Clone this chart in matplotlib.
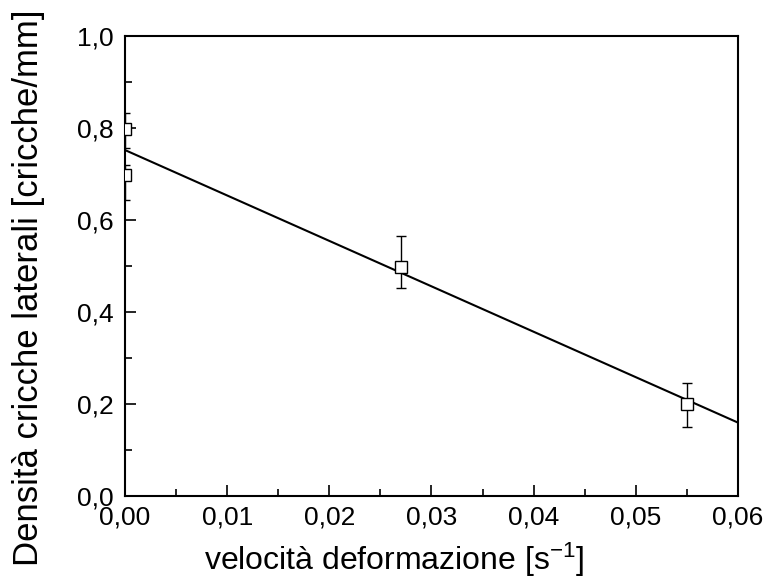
import matplotlib.pyplot as plt
from matplotlib.ticker import MultipleLocator

plt.rcParams['font.family'] = ['Liberation Sans', 'DejaVu Sans']
plt.rcParams['mathtext.default'] = 'regular'

# strain rate [1/s] vs lateral crack density [cracks/mm]
strain_rate = [0.0, 0.0, 0.027, 0.055]
crack_density = [0.797, 0.698, 0.498, 0.200]
err_low = [0.040, 0.055, 0.046, 0.050]
err_high = [0.036, 0.022, 0.067, 0.045]

# linear fit endpoints
fit_x = [0.0, 0.06]
fit_y = [0.752, 0.160]

xticks = [0.00, 0.01, 0.02, 0.03, 0.04, 0.05, 0.06]
yticks = [0.0, 0.2, 0.4, 0.6, 0.8, 1.0]

fig = plt.figure(figsize=(7.67, 5.79), dpi=100)
ax = fig.add_axes([0.163, 0.143, 0.799, 0.795])

ax.plot(fit_x, fit_y, color='black', linewidth=1.5)
ax.errorbar(strain_rate, crack_density, yerr=[err_low, err_high],
            fmt='s', mfc='white', mec='black', color='black',
            markersize=8.5, markeredgewidth=1.0, elinewidth=1.0,
            capsize=3.5, capthick=1.0, zorder=3)

ax.set_xlim(0, 0.06)
ax.set_ylim(0, 1.0)
ax.set_xticks(xticks)
ax.set_xticklabels([f"{v:.2f}".replace('.', ',') for v in xticks])
ax.set_yticks(yticks)
ax.set_yticklabels([f"{v:.1f}".replace('.', ',') for v in yticks])
ax.xaxis.set_minor_locator(MultipleLocator(0.005))
ax.yaxis.set_minor_locator(MultipleLocator(0.1))
ax.tick_params(which='both', direction='in', top=False, right=False,
               labelsize=19, width=1.2)
ax.tick_params(axis='y', pad=8)
ax.tick_params(axis='x', pad=7)
ax.tick_params(which='major', length=8)
ax.tick_params(which='minor', length=5)
for s in ax.spines.values():
    s.set_linewidth(1.5)

ax.set_xlabel('velocità deformazione [s$^{-1}$]', fontsize=23)
ax.set_ylabel('Densità cricche laterali [cricche/mm]', fontsize=25)
ax.xaxis.set_label_coords(0.439, -0.096)
ax.yaxis.set_label_coords(-0.131, 0.453)

fig.savefig('out.png', dpi=100)
